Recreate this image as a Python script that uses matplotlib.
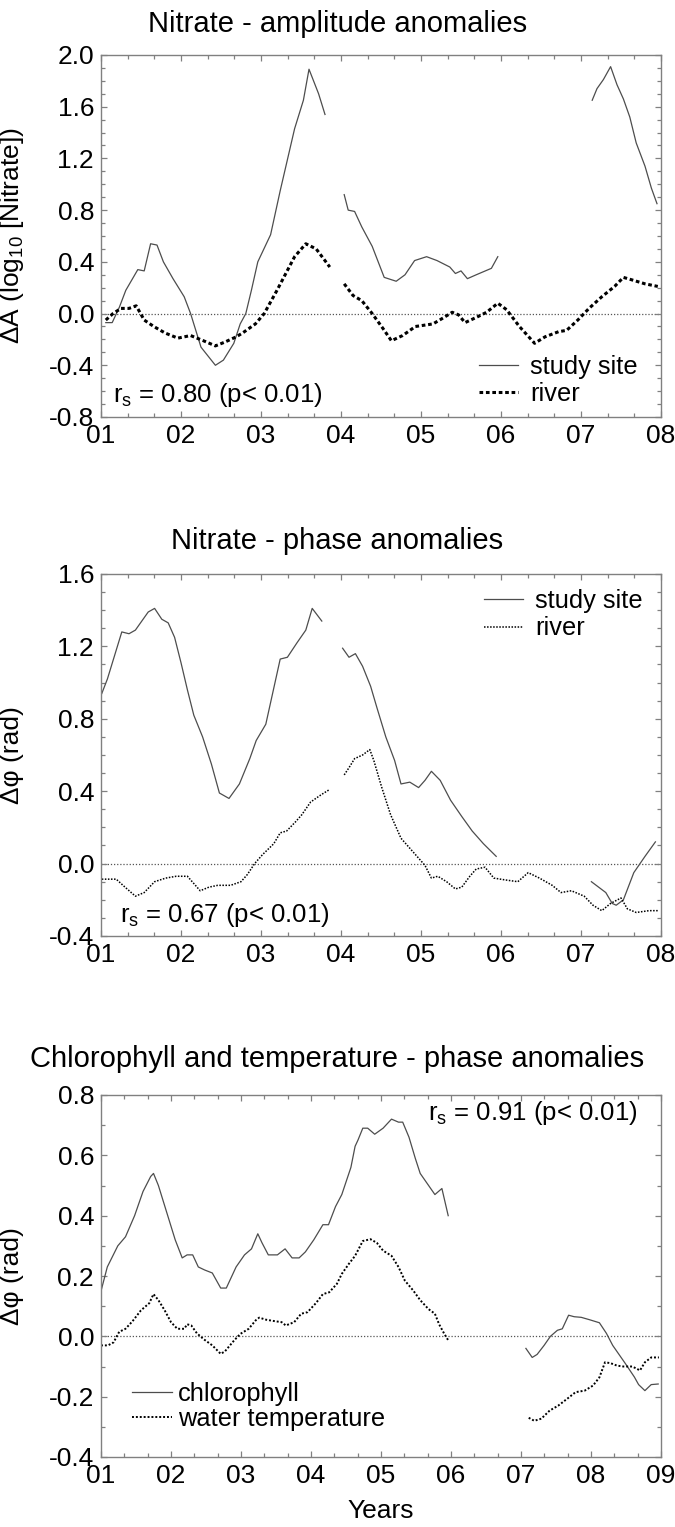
import numpy as np
import matplotlib
matplotlib.use("Agg")
import matplotlib.pyplot as plt
from matplotlib.ticker import MultipleLocator, FixedLocator

plt.rcParams['font.family'] = ['Liberation Sans', 'DejaVu Sans']
plt.rcParams['axes.unicode_minus'] = False
plt.rcParams['mathtext.fontset'] = 'custom'
plt.rcParams['mathtext.rm'] = 'Liberation Sans'
plt.rcParams['mathtext.it'] = 'Liberation Sans'

nan = np.nan

# ---------------- Panel 1: Nitrate amplitude anomalies ----------------
amp_site_x = [1.06, 1.14, 1.23, 1.31, 1.46, 1.54, 1.62, 1.70, 1.78, 1.90, 2.04, 2.12, 2.25, 2.43, 2.53,
              2.66, 2.74, 2.81, 2.88, 2.96, 3.12, 3.24, 3.42, 3.53, 3.60, 3.72, 3.80, nan,
              4.04, 4.09, 4.17, 4.26, 4.39, 4.54, 4.69, 4.80, 4.92, 5.07, 5.20, 5.36, 5.43, 5.50,
              5.58, 5.69, 5.88, 5.96, nan,
              7.14, 7.20, 7.28, 7.37, 7.45, 7.53, 7.61, 7.69, 7.80, 7.88, 7.95]
amp_site_y = [-0.07, -0.07, 0.05, 0.18, 0.34, 0.33, 0.54, 0.53, 0.40, 0.27, 0.13, 0.0, -0.26, -0.40, -0.36,
              -0.23, -0.08, 0.0, 0.18, 0.40, 0.61, 0.95, 1.43, 1.65, 1.89, 1.70, 1.54, nan,
              0.92, 0.80, 0.79, 0.67, 0.52, 0.28, 0.25, 0.30, 0.41, 0.44, 0.41, 0.36, 0.31, 0.33,
              0.27, 0.30, 0.35, 0.44, nan,
              1.65, 1.74, 1.81, 1.91, 1.77, 1.66, 1.52, 1.32, 1.14, 0.97, 0.85]
amp_river_x = [1.06, 1.15, 1.25, 1.35, 1.44, 1.54, 1.66, 1.80, 1.96, 2.12, 2.28, 2.43, 2.55, 2.69, 2.77,
               2.93, 3.04, 3.20, 3.42, 3.56, 3.69, 3.86, nan,
               4.04, 4.15, 4.26, 4.39, 4.53, 4.63, 4.77, 4.93, 5.15, 5.26, 5.39, 5.47, 5.55, 5.69,
               5.82, 5.96, 6.07, 6.23, 6.42, 6.55, 6.72, 6.82, 6.96, 7.10, 7.26, 7.42, 7.53, 7.64,
               7.80, 7.96]
amp_river_y = [-0.05, 0.0, 0.04, 0.04, 0.06, -0.05, -0.10, -0.15, -0.19, -0.17, -0.21, -0.25, -0.22, -0.18, -0.15,
               -0.08, 0.0, 0.18, 0.44, 0.54, 0.50, 0.36, nan,
               0.23, 0.14, 0.10, 0.0, -0.12, -0.21, -0.17, -0.10, -0.08, -0.04, 0.01, -0.01, -0.07, -0.03,
               0.01, 0.08, 0.03, -0.10, -0.23, -0.18, -0.14, -0.13, -0.05, 0.04, 0.13, 0.21, 0.28, 0.26,
               0.23, 0.21]

# ---------------- Panel 2: Nitrate phase anomalies ----------------
ph_site_x = [1.01, 1.08, 1.17, 1.26, 1.35, 1.43, 1.59, 1.67, 1.76, 1.84, 1.92, 2.00, 2.08, 2.16, 2.27,
             2.38, 2.48, 2.60, 2.73, 2.86, 2.94, 3.06, 3.15, 3.24, 3.33, 3.45, 3.56, 3.64, 3.76, nan,
             4.02, 4.10, 4.18, 4.27, 4.37, 4.45, 4.56, 4.67, 4.75, 4.86, 4.97, 5.05, 5.13, 5.24,
             5.37, 5.51, 5.64, 5.78, 5.94, nan,
             7.13, 7.31, 7.39, 7.44, 7.53, 7.66, 7.80, 7.93]
ph_site_y = [0.94, 1.02, 1.15, 1.28, 1.27, 1.29, 1.39, 1.41, 1.35, 1.33, 1.25, 1.11, 0.96, 0.82, 0.70,
             0.55, 0.39, 0.36, 0.44, 0.58, 0.68, 0.77, 0.95, 1.13, 1.14, 1.22, 1.29, 1.41, 1.34, nan,
             1.19, 1.14, 1.16, 1.09, 0.98, 0.86, 0.70, 0.57, 0.44, 0.45, 0.42, 0.46, 0.51, 0.46,
             0.35, 0.26, 0.18, 0.11, 0.04, nan,
             -0.10, -0.16, -0.22, -0.23, -0.20, -0.05, 0.04, 0.12]
ph_river_x = [1.01, 1.19, 1.30, 1.43, 1.54, 1.67, 1.81, 1.94, 2.08, 2.16, 2.24, 2.35, 2.46, 2.62, 2.75,
              2.83, 2.92, 3.02, 3.16, 3.24, 3.32, 3.43, 3.51, 3.62, 3.75, 3.86, nan,
              4.04, 4.10, 4.17, 4.27, 4.36, 4.41, 4.51, 4.62, 4.75, 4.89, 4.97, 5.05, 5.13, 5.21,
              5.32, 5.43, 5.51, 5.61, 5.69, 5.80, 5.91, 6.05, 6.21, 6.34, 6.48, 6.64, 6.75, 6.88,
              7.04, 7.15, 7.26, 7.37, 7.50, 7.58, 7.69, 7.85, 7.96]
ph_river_y = [-0.086, -0.086, -0.13, -0.18, -0.16, -0.10, -0.08, -0.07, -0.07, -0.11, -0.15, -0.13, -0.12, -0.12, -0.10,
              -0.06, 0.0, 0.05, 0.11, 0.17, 0.18, 0.23, 0.27, 0.34, 0.38, 0.41, nan,
              0.49, 0.53, 0.58, 0.60, 0.63, 0.57, 0.42, 0.27, 0.14, 0.07, 0.03, -0.01, -0.08, -0.07,
              -0.10, -0.14, -0.13, -0.07, -0.03, -0.02, -0.08, -0.09, -0.10, -0.05, -0.08, -0.12, -0.16, -0.15,
              -0.18, -0.23, -0.26, -0.22, -0.19, -0.25, -0.27, -0.26, -0.26]

# ---------------- Panel 3: Chlorophyll and temperature phase anomalies ----------------
chl_x = [1.00, 1.09, 1.24, 1.35, 1.48, 1.60, 1.71, 1.75, 1.82, 1.90, 1.98, 2.06, 2.16, 2.23, 2.31,
         2.39, 2.48, 2.59, 2.71, 2.79, 2.93, 3.05, 3.15, 3.24, 3.30, 3.39, 3.52, 3.63, 3.73, 3.83,
         3.92, 4.04, 4.17, 4.25, 4.35, 4.44, 4.57, 4.63, 4.67, 4.74, 4.81, 4.91, 5.03, 5.15, 5.25,
         5.31, 5.40, 5.49, 5.56, 5.65, 5.77, 5.87, 5.96, nan,
         7.07, 7.16, 7.23, 7.33, 7.42, 7.52, 7.59, 7.68, 7.76, 7.86, 7.98, 8.12, 8.22, 8.31, 8.40,
         8.49, 8.62, 8.68, 8.77, 8.86, 8.96]
chl_y = [0.15, 0.23, 0.30, 0.33, 0.40, 0.48, 0.53, 0.54, 0.50, 0.44, 0.38, 0.32, 0.26, 0.27, 0.27,
         0.23, 0.22, 0.21, 0.16, 0.16, 0.23, 0.27, 0.29, 0.34, 0.31, 0.27, 0.27, 0.29, 0.26, 0.26,
         0.28, 0.32, 0.37, 0.37, 0.43, 0.47, 0.56, 0.63, 0.65, 0.69, 0.69, 0.67, 0.69, 0.72, 0.71,
         0.71, 0.66, 0.59, 0.54, 0.51, 0.47, 0.49, 0.40, nan,
         -0.04, -0.07, -0.06, -0.03, 0.0, 0.02, 0.025, 0.07, 0.065, 0.063, 0.055, 0.045, 0.01, -0.03, -0.06,
         -0.09, -0.135, -0.16, -0.18, -0.16, -0.158]
wt_x = [1.00, 1.10, 1.18, 1.26, 1.35, 1.45, 1.57, 1.69, 1.75, 1.82, 1.91, 2.00, 2.09, 2.19, 2.23,
        2.29, 2.37, 2.47, 2.59, 2.71, 2.77, 2.90, 2.99, 3.11, 3.21, 3.26, 3.36, 3.49, 3.58, 3.64,
        3.76, 3.86, 3.95, 4.07, 4.17, 4.26, 4.37, 4.44, 4.54, 4.63, 4.74, 4.85, 4.94, 5.03, 5.15,
        5.25, 5.34, 5.46, 5.56, 5.68, 5.77, 5.83, 5.90, 5.96, nan,
        7.11, 7.19, 7.29, 7.41, 7.53, 7.66, 7.78, 7.91, 8.03, 8.12, 8.20, 8.28, 8.37, 8.46, 8.59,
        8.70, 8.77, 8.86, 8.97]
wt_y = [-0.03, -0.03, -0.02, 0.015, 0.025, 0.05, 0.086, 0.11, 0.14, 0.12, 0.086, 0.047, 0.025, 0.025, 0.04,
        0.036, 0.01, -0.01, -0.03, -0.058, -0.05, -0.014, 0.008, 0.025, 0.053, 0.062, 0.055, 0.05, 0.047, 0.036,
        0.047, 0.075, 0.08, 0.11, 0.14, 0.146, 0.174, 0.207, 0.24, 0.267, 0.316, 0.322, 0.31, 0.284, 0.267,
        0.23, 0.185, 0.152, 0.12, 0.09, 0.075, 0.04, 0.01, -0.013, nan,
        -0.27, -0.28, -0.273, -0.246, -0.23, -0.207, -0.185, -0.18, -0.163, -0.136, -0.086, -0.089, -0.097, -0.10, -0.10,
        -0.113, -0.086, -0.07, -0.07]

year_labels_7 = ['01', '02', '03', '04', '05', '06', '07', '08']
year_labels_8 = ['01', '02', '03', '04', '05', '06', '07', '08', '09']

W, H = 675, 1527
fig = plt.figure(figsize=(W / 100, H / 100), dpi=100)

FS = 19
FS_LEG = 18.3
FS_ANN = 18.5
FS_TITLE = 21
SPINE = '#808080'
LINE = '#4d4d4d'


def make_axes(top_px, bottom_px):
    left_px, right_px = 101, 661
    return fig.add_axes([left_px / W, 1 - bottom_px / H,
                         (right_px - left_px) / W, (bottom_px - top_px) / H])


def style(ax, xmax, labels, ylim, ymajor, yminor):
    ax.set_xlim(1, xmax)
    ax.set_ylim(*ylim)
    ax.xaxis.set_major_locator(FixedLocator(range(1, xmax + 1)))
    ax.set_xticklabels(labels)
    ax.xaxis.set_minor_locator(MultipleLocator(1 / 3))
    ax.yaxis.set_major_locator(MultipleLocator(ymajor))
    ax.yaxis.set_minor_locator(MultipleLocator(yminor))
    ax.yaxis.set_major_formatter(matplotlib.ticker.FormatStrFormatter('%.1f'))
    ax.tick_params(which='both', direction='in', top=True, right=True,
                   color=SPINE, width=0.9, labelsize=FS, labelcolor='black')
    ax.tick_params(which='major', length=4, pad=5)
    ax.tick_params(which='minor', length=3)
    for s in ax.spines.values():
        s.set_color(SPINE)
        s.set_linewidth(1.0)
    ax.axhline(0, color='#555555', lw=0.9, ls=(0, (1, 1.5)), zorder=1)


# Panel 1
ax1 = make_axes(55, 417)
style(ax1, 8, year_labels_7, (-0.8, 2.0), 0.4, 0.1)
ax1.plot(amp_site_x, amp_site_y, color=LINE, lw=0.9, label='study site')
ax1.plot(amp_river_x, amp_river_y, color='black', lw=2.2, ls=(0, (1.2, 0.9)), label='river')
ax1.legend(loc='center left', bbox_to_anchor=(0.675, 0.10), frameon=False, fontsize=FS_LEG,
           handlelength=1.55, handletextpad=0.45, labelspacing=0.12, borderpad=0, borderaxespad=0)
ax1.text(0.021, 0.061, r'r$_\mathregular{s}$ = 0.80 (p< 0.01)', transform=ax1.transAxes,
         fontsize=FS_ANN, ha='left', va='center')
ax1.set_ylabel(r'$\Delta$A (log$_\mathregular{10}$ [Nitrate])', fontsize=FS)
ax1.yaxis.set_label_coords(-0.134, 0.5)
fig.text(0.5, 1 - 24 / H, 'Nitrate - amplitude anomalies', ha='center', va='center', fontsize=FS_TITLE)

# Panel 2
ax2 = make_axes(574, 936)
style(ax2, 8, year_labels_7, (-0.4, 1.6), 0.4, 0.1)
ax2.plot(ph_site_x, ph_site_y, color=LINE, lw=0.9, label='study site')
ax2.plot(ph_river_x, ph_river_y, color='black', lw=1.1, ls=(0, (1, 1)), label='river')
ax2.legend(loc='center left', bbox_to_anchor=(0.684, 0.887), frameon=False, fontsize=FS_LEG,
           handlelength=1.55, handletextpad=0.45, labelspacing=0.12, borderpad=0, borderaxespad=0)
ax2.text(0.034, 0.058, r'r$_\mathregular{s}$ = 0.67 (p< 0.01)', transform=ax2.transAxes,
         fontsize=FS_ANN, ha='left', va='center')
ax2.set_ylabel('Δφ (rad)', fontsize=FS)
ax2.yaxis.set_label_coords(-0.138, 0.5)
fig.text(0.5, 1 - 541 / H, 'Nitrate - phase anomalies', ha='center', va='center', fontsize=FS_TITLE)

# Panel 3
ax3 = make_axes(1095, 1457)
style(ax3, 9, year_labels_8, (-0.4, 0.8), 0.2, 0.1)
ax3.plot(chl_x, chl_y, color=LINE, lw=0.9, label='chlorophyll')
ax3.plot(wt_x, wt_y, color='black', lw=1.4, ls=(0, (1, 1)), label='water temperature')
ax3.legend(loc='center left', bbox_to_anchor=(0.055, 0.1395), frameon=False, fontsize=FS_LEG,
           handlelength=1.6, handletextpad=0.2, labelspacing=0.05, borderpad=0, borderaxespad=0)
ax3.text(0.957, 0.950, r'r$_\mathregular{s}$ = 0.91 (p< 0.01)', transform=ax3.transAxes,
         fontsize=FS_ANN, ha='right', va='center')
ax3.set_ylabel('Δφ (rad)', fontsize=FS)
ax3.yaxis.set_label_coords(-0.138, 0.5)
ax3.set_xlabel('Years', fontsize=FS)
ax3.xaxis.set_label_coords(0.5, -(1499 - 1457) / 362)
fig.text(0.5, 1 - 1059 / H, 'Chlorophyll and temperature - phase anomalies', ha='center',
         va='center', fontsize=FS_TITLE)

fig.savefig('out.png', dpi=100)
